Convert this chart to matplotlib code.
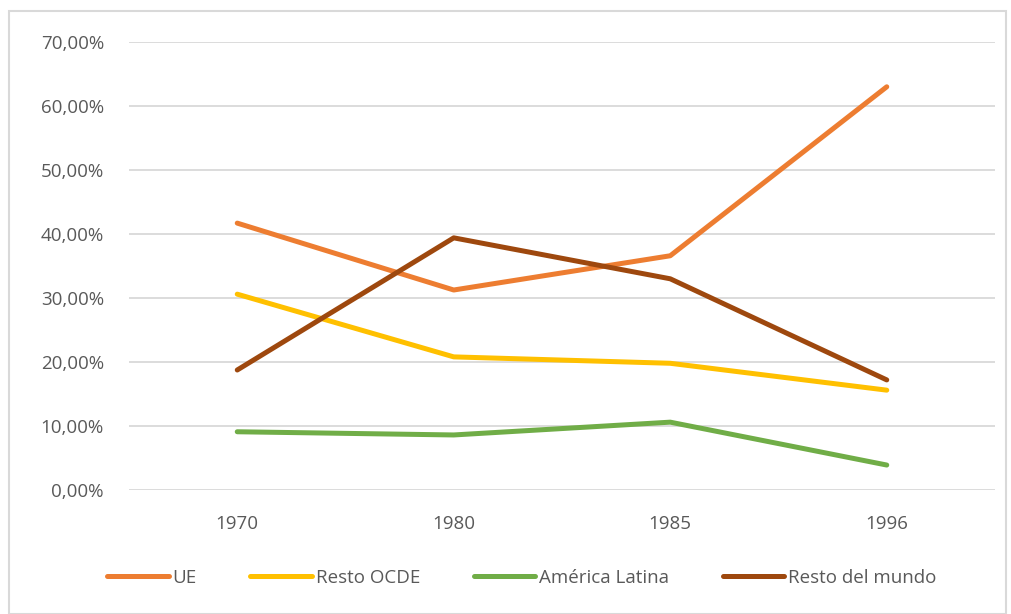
import matplotlib
matplotlib.use("Agg")
from matplotlib import pyplot as plt
from matplotlib.patches import Rectangle
from matplotlib.ticker import FuncFormatter

years = ["1970", "1980", "1985", "1996"]
ue = [0.417, 0.3125, 0.366, 0.630]
resto_ocde = [0.306, 0.208, 0.198, 0.156]
america_latina = [0.091, 0.086, 0.106, 0.039]
resto_mundo = [0.1875, 0.394, 0.330, 0.172]

series = [
    ("UE", ue, "#ED7D31"),
    ("Resto OCDE", resto_ocde, "#FFC000"),
    ("América Latina", america_latina, "#70AD47"),
    ("Resto del mundo", resto_mundo, "#9E480E"),
]

plt.rcParams['font.family'] = ['Open Sans', 'DejaVu Sans']
text_col = "#595959"
grid_col = "#D9D9D9"

W, H = 1011, 614
fig = plt.figure(figsize=(W / 100, H / 100), dpi=100)
fig.patches.append(Rectangle((9 / W, 0), 997 / W, 1 - 11 / H, transform=fig.transFigure,
                             fill=False, edgecolor=grid_col, linewidth=1.5))

ax = fig.add_axes([129 / W, 1 - 490 / H, (995 - 129) / W, (490 - 42) / H])
x = list(range(len(years)))
for name, vals, col in series:
    ax.plot(x, vals, color=col, linewidth=3.6, solid_capstyle='round',
            solid_joinstyle='round', label=name)

ax.set_xlim(-0.5, 3.5)
ax.set_ylim(0, 0.7)
ax.set_yticks([i / 10 for i in range(8)])
ax.yaxis.set_major_formatter(FuncFormatter(lambda v, p: f"{v * 100:.2f}%".replace(".", ",")))
ax.set_xticks(x)
ax.set_xticklabels(years)
ax.grid(axis='y', color=grid_col, linewidth=1.3)
ax.set_axisbelow(True)
for s in ax.spines.values():
    s.set_visible(False)
ax.tick_params(length=0, colors=text_col, labelsize=13.5)
ax.tick_params(axis='y', pad=18)
ax.tick_params(axis='x', pad=18)

fig.legend(loc='center', bbox_to_anchor=(0.516, 1 - 578 / H), ncol=4, frameon=False,
           fontsize=13.5, labelcolor=text_col, handlelength=3.3, handletextpad=0.2,
           columnspacing=2.85)

fig.savefig("out.png", dpi=100)
